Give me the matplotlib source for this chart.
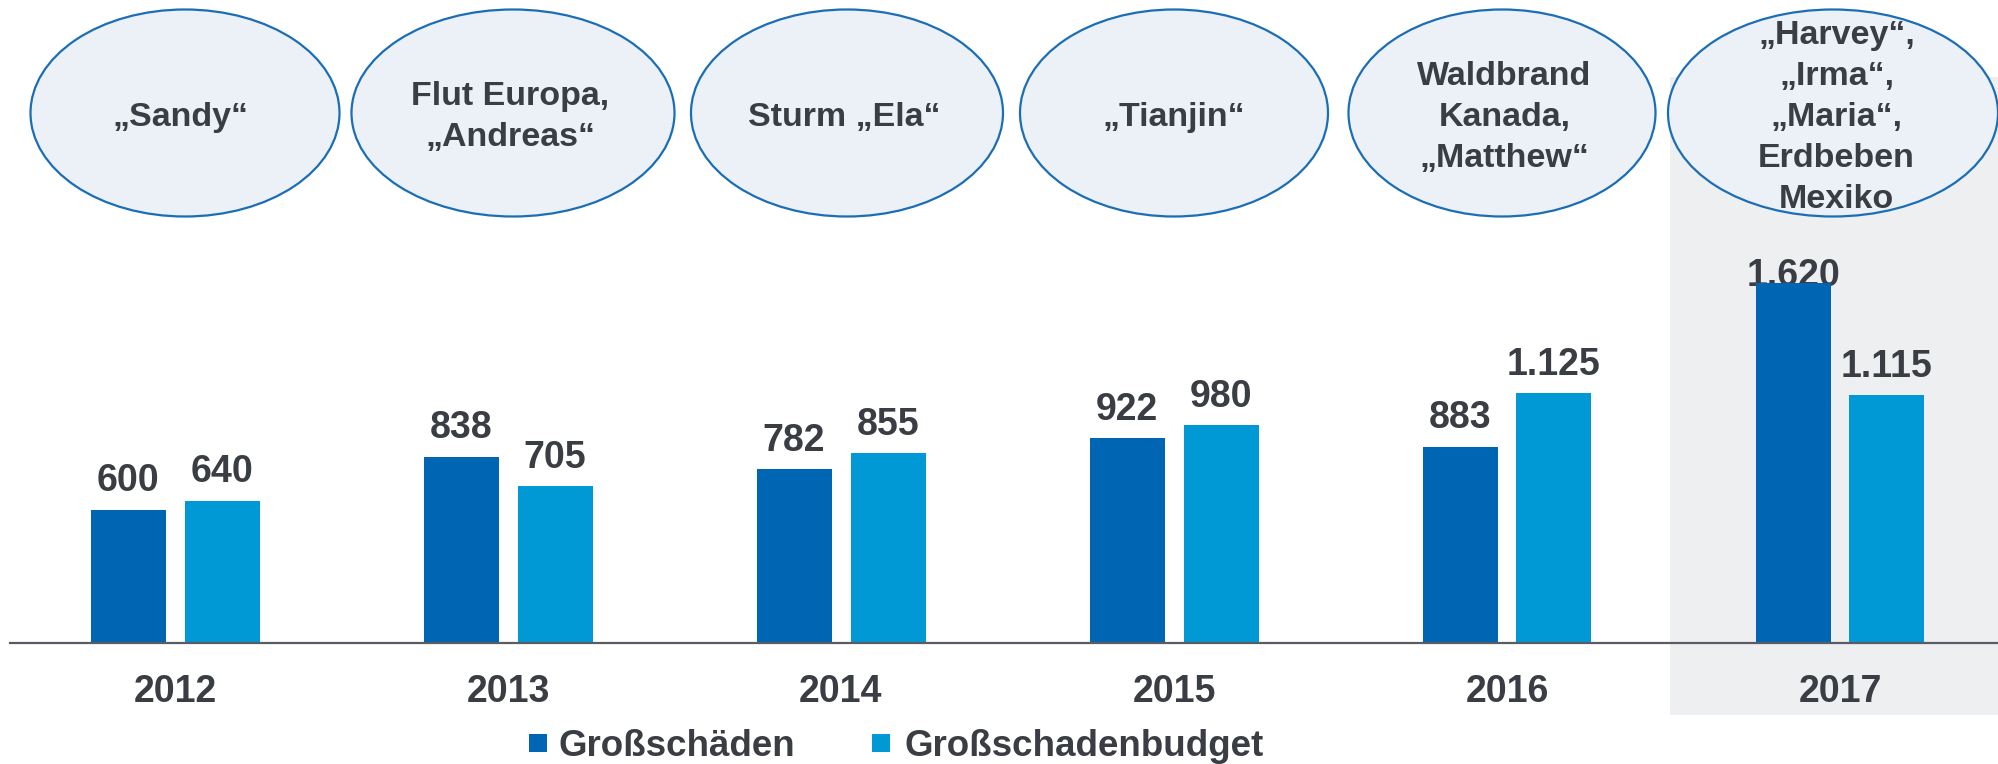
import matplotlib
matplotlib.use("Agg")
import matplotlib.pyplot as plt
from matplotlib.patches import Ellipse, Rectangle

# ---------------- data ----------------
years = ["2012", "2013", "2014", "2015", "2016", "2017"]
grossschaeden = [600, 838, 782, 922, 883, 1620]
budget = [640, 705, 855, 980, 1125, 1115]
series_names = ["Großschäden", "Großschadenbudget"]
events = [
    "„Sandy“",
    "Flut Europa,\n„Andreas“",
    "Sturm „Ela“",
    "„Tianjin“",
    "Waldbrand\nKanada,\n„Matthew“",
    "„Harvey“,\n„Irma“,\n„Maria“,\nErdbeben\nMexiko",
]

# ---------------- style / layout ----------------
plt.rcParams["font.family"] = ["Liberation Sans", "DejaVu Sans"]
DARK = "#0065B2"
LIGHT = "#0099D5"
TXT = "#3A3E44"
ELL_FC = "#ECF0F7"
ELL_EC = "#1B6EB5"
GRAY = "#EEEFF1"

# ellipse placement (px offset from group centre, px width) - hand-drawn look
ELL_SHIFT = [10, 5, 6, 0, -5, -7]
ELL_WIDTH = [309, 323, 312, 308, 307, 330]

W, H = 1999, 764
fig = plt.figure(figsize=(W / 100, H / 100), dpi=100)
ax = fig.add_axes([0, 0, 1, 1])

# pixel <-> data helpers (layout only)
X0, XS = 175.0, 333.0      # px of first group centre, px per group
Y0, YS = 643.0, 0.222      # px (from top) of baseline, px per unit


def xd(px):
    return (px - X0) / XS


def yd(py):
    return (Y0 - py) / YS


ax.set_xlim(xd(0), xd(W))
ax.set_ylim(yd(H), yd(0))
ax.axis("off")

x = list(range(len(years)))
bw = 75 / XS
off = 47 / XS

# highlight box for last year
ax.add_patch(Rectangle((xd(1670), yd(715)), xd(W) - xd(1670), yd(77) - yd(715),
                       facecolor=GRAY, edgecolor="none", zorder=0))

# bars
ax.bar([i - off for i in x], grossschaeden, width=bw, color=DARK, zorder=3)
ax.bar([i + off for i in x], budget, width=bw, color=LIGHT, zorder=3)

# baseline
ax.axhline(0, xmin=10 / W, xmax=1, color="#595C62", lw=1.6, zorder=4)


def fmt(v):
    return f"{v:,}".replace(",", ".")


gap = 18.5 / YS
label_max = yd(286)
for i in x:
    for xv, v in ((i - off, grossschaeden[i]), (i + off, budget[i])):
        ax.text(xv, min(v + gap, label_max), fmt(v), ha="center", va="baseline",
                fontsize=27, fontweight="bold", color=TXT, zorder=2)
    ax.text(i, yd(702), years[i], ha="center", va="baseline",
            fontsize=27, fontweight="bold", color=TXT, zorder=5)

# event ellipses
LINE_STEP = 41.0        # px between text baselines
MID_BASE = 125.7        # px (from top) of middle-line baseline
for i, ev in enumerate(events):
    cpx = X0 + XS * i + ELL_SHIFT[i]
    cx = xd(cpx)
    ax.add_patch(Ellipse((cx, yd(113)), width=ELL_WIDTH[i] / XS, height=207 / YS,
                         facecolor=ELL_FC, edgecolor=ELL_EC, lw=1.6, zorder=5))
    lines = ev.split("\n")
    n = len(lines)
    for k, line in enumerate(lines):
        base = MID_BASE + (k - (n - 1) / 2) * LINE_STEP
        ax.text(xd(X0 + XS * i + ELL_SHIFT[i] * 0.5), yd(base), line,
                ha="center", va="baseline", fontsize=24.5,
                fontweight="bold", color=TXT, zorder=6)

# legend
sq = 18
for (sx, tx), name, col in zip(((529, 558), (872, 905)), series_names, (DARK, LIGHT)):
    ax.add_patch(Rectangle((xd(sx), yd(734 + sq)), sq / XS, sq / YS,
                           facecolor=col, edgecolor="none", zorder=5))
    ax.text(xd(tx), yd(756), name, ha="left", va="baseline", fontsize=26.5,
            fontweight="bold", color=TXT, zorder=5)

fig.savefig("out.png", dpi=100)
